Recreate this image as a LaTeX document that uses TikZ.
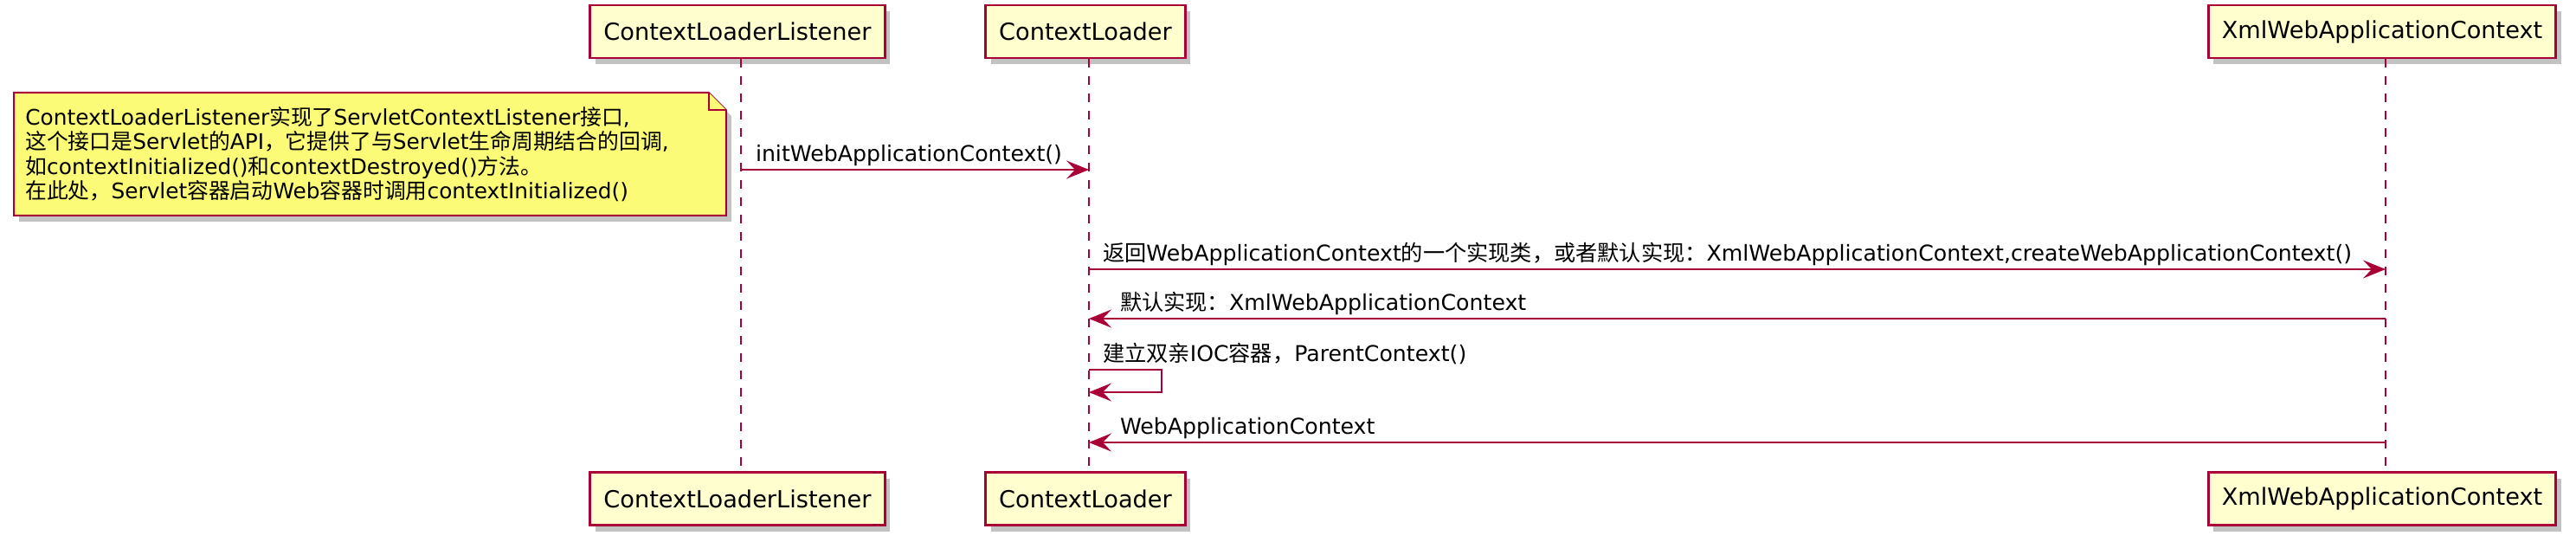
\documentclass[tikz,border=0pt]{standalone}
\usepackage{fontspec}
\setmainfont{DejaVu Sans}
\newfontfamily\cjkfont{Noto Sans CJK SC}
\usetikzlibrary{arrows.meta,shadows,backgrounds}

\definecolor{umlred}{HTML}{A80036}
\definecolor{partfill}{HTML}{FEFECE}
\definecolor{notefill}{HTML}{FBFB77}

% chinese runs are set in the CJK font
\XeTeXinterchartokenstate=1
\newXeTeXintercharclass\cjkclass
\newcommand\setcjkrange[2]{%
  \count255=#1
  \loop
    \XeTeXcharclass\count255=\cjkclass
  \ifnum\count255<#2 \advance\count255 by 1 \repeat}
\setcjkrange{"3000}{"303F}
\setcjkrange{"4E00}{"9FFF}
\setcjkrange{"FF00}{"FFEF}
\XeTeXinterchartoks 0 \cjkclass={\begingroup\cjkfont}
\XeTeXinterchartoks 4095 \cjkclass={\begingroup\cjkfont}
\XeTeXinterchartoks \cjkclass 0={\endgroup}
\XeTeXinterchartoks \cjkclass 4095={\endgroup}

\begin{document}
\begin{tikzpicture}[x=1pt,y=1pt,>={Stealth[length=13pt,width=10.5pt,inset=5pt]},
  part node/.style={rectangle,fill=partfill,draw=umlred,line width=1.4pt,minimum height=30.5pt,
    inner xsep=7.8pt,font=\fontsize{13.6pt}{16pt}\selectfont,
    drop shadow={shadow xshift=3pt,shadow yshift=-3.5pt,fill=black!60,opacity=0.4}},
  note node/.style={text width=398pt,inner xsep=6.5pt,minimum height=70.5pt,align=left,
    font=\fontsize{12.4pt}{14.25pt}\selectfont},
  note edge/.style={fill=notefill,draw=umlred,line width=1pt},
  life line/.style={draw=umlred,line width=1pt,dash pattern=on 5pt off 5pt},
  msg edge/.style={->,draw=umlred,line width=1pt},
  msg text/.style={font=\fontsize{12.6pt}{14pt}\selectfont,inner sep=0pt}]
  \useasboundingbox (0,0) rectangle (1488,-313);

  \node[part node] (listener) at (426,-18.25) {ContextLoaderListener};
  \node[part node] (loader) [node distance=201pt,right of=listener] {ContextLoader};
  \node[part node] (xml) [node distance=749pt,right of=loader] {XmlWebApplicationContext};
  \node[part node] (listener2) [node distance=269.75pt,below of=listener] {ContextLoaderListener};
  \node[part node] (loader2) [node distance=269.75pt,below of=loader] {ContextLoader};
  \node[part node] (xml2) [node distance=269.75pt,below of=xml] {XmlWebApplicationContext};

  \path[life line]
    ([xshift=2pt]listener.south) edge ([xshift=2pt]listener2.north)
    ([xshift=2pt]loader.south) edge ([xshift=2pt]loader2.north)
    ([xshift=2pt]xml.south) edge ([xshift=2pt]xml2.north);
  \coordinate (lx) at ([xshift=2pt]listener.south);
  \coordinate (cx) at ([xshift=2pt]loader.south);
  \coordinate (xx) at ([xshift=2pt]xml.south);

  \node[note node,anchor=north west] (note) at (8,-53.5)
    {ContextLoaderListener实现了ServletContextListener接口,\\
     这个接口是Servlet的API，它提供了与Servlet生命周期结合的回调,\\
     如contextInitialized()和contextDestroyed()方法。\\
     在此处，Servlet容器启动Web容器时调用contextInitialized()};
  \begin{scope}[on background layer]
    \draw[note edge,drop shadow={shadow xshift=3pt,shadow yshift=-3.5pt,fill=black!60,opacity=0.4}]
      (note.north west) -- ([xshift=-10pt]note.north east) -- ([yshift=-10pt]note.north east)
      -- (note.south east) -- (note.south west) -- cycle;
    \draw[note edge] ([xshift=-10pt]note.north east) |- ([yshift=-10pt]note.north east);
  \end{scope}

  \draw[msg edge] (lx |- 0,-98) -- node[msg text,pos=0,anchor=base west,xshift=8pt,yshift=5pt]
    {initWebApplicationContext()} (cx |- 0,-98);
  \draw[msg edge] (cx |- 0,-155.5) -- node[msg text,pos=0,anchor=base west,xshift=7.5pt,yshift=5pt]
    {返回WebApplicationContext的一个实现类，或者默认实现：XmlWebApplicationContext,createWebApplicationContext()} (xx |- 0,-155.5);
  \draw[msg edge] (xx |- 0,-184) -- node[msg text,pos=1,anchor=base west,xshift=17.5pt,yshift=5pt]
    {默认实现：XmlWebApplicationContext} (cx |- 0,-184);
  \draw[msg edge] (cx |- 0,-213.5) -- node[msg text,pos=0,anchor=base west,xshift=7.5pt,yshift=5pt]
    {建立双亲IOC容器，ParentContext()} ++(42,0) |- (cx |- 0,-226.5);
  \draw[msg edge] (xx |- 0,-255.5) -- node[msg text,pos=1,anchor=base west,xshift=17.5pt,yshift=5pt]
    {WebApplicationContext} (cx |- 0,-255.5);
\end{tikzpicture}
\end{document}
